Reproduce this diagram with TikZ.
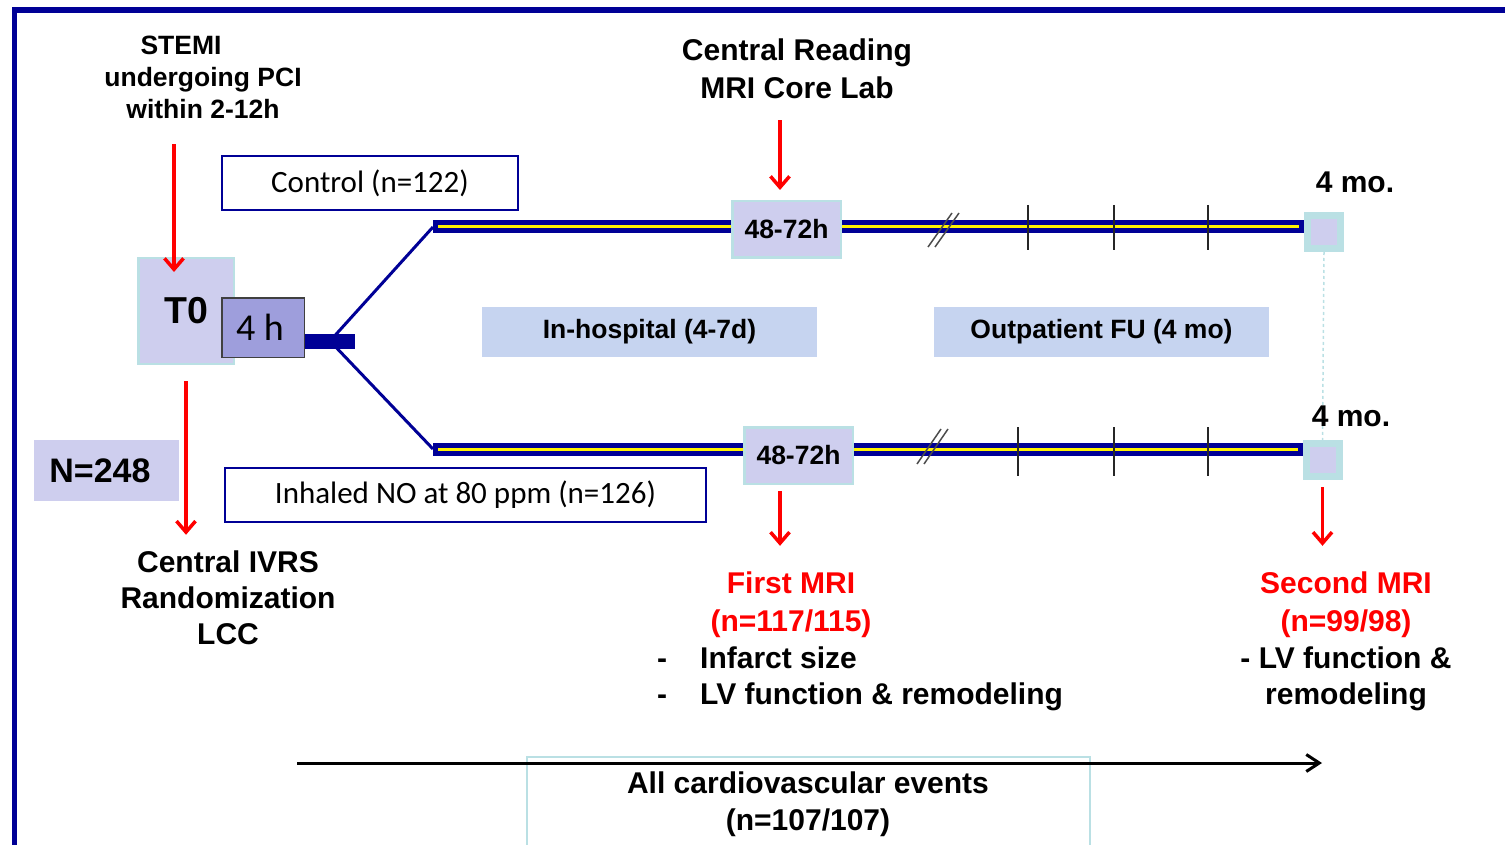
\documentclass[tikz,border=0pt]{standalone}
\usepackage{fontspec}
\setmainfont{Liberation Sans}
\newfontfamily\calibri{Carlito}
\usetikzlibrary{arrows.meta}
\definecolor{Navy}{RGB}{0,0,150}
\definecolor{Lav}{RGB}{206,206,238}
\definecolor{LavDark}{RGB}{158,158,220}
\definecolor{Edge}{RGB}{186,224,228}
\definecolor{Phase}{RGB}{198,212,240}

\begin{document}
\begin{tikzpicture}[x=1pt, y=-1pt,
  txt/.style={font=\fontsize{26.5}{32}\selectfont\bfseries, align=center, inner sep=0},
  big/.style={font=\fontsize{30}{37}\selectfont\bfseries, align=center, inner sep=0},
  timebox/.style={txt, draw=Edge, line width=2.5, fill=Lav, minimum width=108.5, minimum height=56.5},
  phasebox/.style={txt, fill=Phase, minimum width=335, minimum height=50},
  armbox/.style={draw=Navy, line width=2, fill=white, inner sep=0, minimum height=54, font=\calibri\fontsize{31}{36}\selectfont},
  mobox/.style={draw=Edge, line width=7, fill=Lav, minimum size=33, inner sep=0},
  redarr/.style={red, line width=3.5, -{Straight Barb[length=11, width=19]}},
  band/.style={Navy, line width=13},
  stripe/.style={yellow, line width=3, shorten <=5, shorten >=5},
  tickmark/.style={black!85, line width=1.2},
  hashmark/.style={black!70, line width=1.5}]
  \useasboundingbox (0,0) rectangle (1505,845);
  \draw[Navy, line width=5.5] (14.5,860) -- (14.5,10) -- (1520,10);

  % inclusion and randomisation
  \node[txt] (stemi) at (203,77.5) {STEMI\hspace*{44pt}\\undergoing PCI\\within 2-12h};
  \node[draw=Edge, line width=2.5, fill=Lav, minimum width=95.5, minimum height=105.5, inner sep=0,
        font=\fontsize{37.5}{40}\selectfont\bfseries] (t0) at (186,311) {T0};
  \node[draw=black!75, line width=1.5, fill=LavDark, minimum width=82.5, minimum height=59.5, inner sep=0,
        font=\calibri\fontsize{38}{40}\selectfont] (hrs) at (263,327.5) {4 h\hspace*{6pt}};
  \node[fill=Lav, minimum width=145, minimum height=61, inner sep=0,
        font=\fontsize{34}{36}\selectfont\bfseries] (total) at (106.5,470.5) {N=248\hspace*{13pt}};
  \node[big, font=\fontsize{30}{36}\selectfont\bfseries] (ivrs) at (228,598) {Central IVRS\\Randomization\\LCC};

  \coordinate (t0in) at ([xshift=-12pt]t0.north);
  \draw[redarr, shorten <=25, shorten >=-15] (t0in |- stemi.south) -- (t0in);
  \draw[redarr, shorten <=16, shorten >=16] (t0.south) -- (t0.south |- ivrs.north);

  \coordinate (split) at (330,341);
  \coordinate (ctl0) at (433,227);
  \coordinate (ino0) at (433,449);
  \draw[Navy, line width=15] (hrs.east |- split) -- ++(50,0);
  \draw[Navy, line width=3] (ctl0) -- (split) -- (ino0);

  % follow-up lines
  \node[mobox] (mo1) at (1324,232) {};
  \node[mobox] (mo2) at (1322.5,460) {};
  \draw[band] (ctl0) -- (mo1.west |- ctl0);
  \draw[stripe] (ctl0) -- (mo1.west |- ctl0);
  \draw[band] (ino0) -- (mo2.west |- ino0);
  \draw[stripe] (ino0) -- (mo2.west |- ino0);
  \draw[Edge, dashed, line width=1.5] (mo1.south) -- (mo2.north);

  \foreach \x in {1028,1114,1208} \draw[tickmark] (\x,205) -- (\x,250);
  \foreach \x in {1018,1114,1208} \draw[tickmark] (\x,427) -- (\x,476);
  \foreach \d in {0,7} {
    \draw[hashmark] (928+\d,247) -- (952+\d,213);
    \draw[hashmark] (917+\d,464) -- (941+\d,429);
  }

  \node[timebox] (mri1a) at (786.5,229.5) {48-72h};
  \node[timebox] (mri1b) at (798.5,455.5) {48-72h};
  \node[big] (mo1lbl) at (1355,182) {4 mo.};
  \node[big] (mo2lbl) at (1351,416) {4 mo.};

  % arms and phases
  \node[armbox, minimum width=296] (ctl) at (370,183) {Control (n=122)};
  \node[armbox, minimum width=481] (ino) at (465.5,495) {Inhaled NO at 80 ppm (n=126)};
  \node[phasebox] (hosp) at (649.5,332) {In-hospital (4-7d)};
  \node[phasebox] (outp) at (1101.5,332) {Outpatient FU (4 mo)};

  % MRI read-outs
  \node[big, font=\fontsize{30}{38}\selectfont\bfseries] (reading) at (797,69) {Central Reading\\MRI Core Lab};
  \coordinate (mriain) at ([xshift=-6.5pt]mri1a.north);
  \draw[redarr, shorten <=21, shorten >=10] (mriain |- reading.south) -- (mriain);

  \node[big, red, font=\fontsize{30}{38}\selectfont\bfseries] (first) at (791,605) {First MRI\\(n=117/115)};
  \node[big, align=left, anchor=west, font=\fontsize{30}{36}\selectfont\bfseries] (firstout) at (657,679)
    {\makebox[43pt][l]{-}Infarct size\\\makebox[43pt][l]{-}LV function \& remodeling};
  \node[big, red, font=\fontsize{30}{38}\selectfont\bfseries] (second) at (1346,605) {Second MRI\\(n=99/98)};
  \node[big, font=\fontsize{30}{36}\selectfont\bfseries] (secondout) at (1346,679) {- LV function \&\\remodeling};

  \coordinate (mribout) at ([xshift=-18.5pt]mri1b.south);
  \draw[redarr, shorten <=6, shorten >=26] (mribout) -- (mribout |- first.north);
  \draw[redarr, shorten <=7, shorten >=26] (mo2.south) -- (mo2.south |- second.north);

  % events
  \draw[Edge, line width=1.2] (527,757) rectangle (1090,880);
  \node[big] (events) at (808,804) {All cardiovascular events\\(n=107/107)};
  \coordinate (evstart) at (297,763);
  \coordinate (evend) at (1322,763);
  \draw[line width=3, -{Straight Barb[length=13, width=17]}] (evstart) -- (evend);
\end{tikzpicture}
\end{document}
